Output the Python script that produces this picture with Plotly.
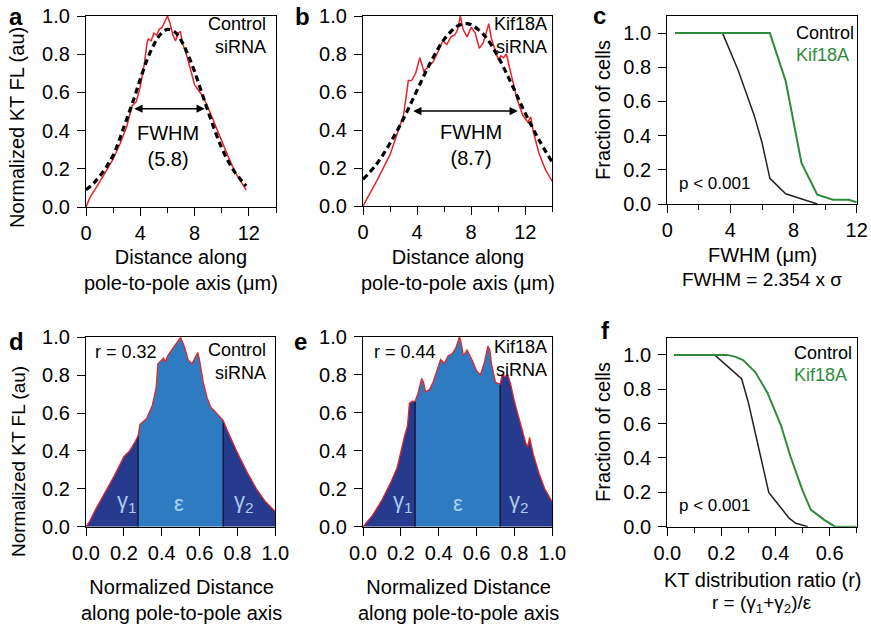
import plotly.graph_objects as go

# ---------------- data ----------------
# panel a: control siRNA profile (distance um, normalized FL)
a_x = [0, 0.3, 1.0, 2.0, 2.5, 3.0, 3.4, 3.7, 4.0, 4.3, 4.5, 4.6, 4.8, 5.0, 5.2, 5.4, 5.6, 5.8, 6.0,
       6.2, 6.4, 6.6, 6.8, 6.95, 7.1, 7.4, 7.7, 8.0, 8.3, 8.6, 9.0, 9.5, 10.0, 10.5, 11.0, 11.5, 11.8]
a_y = [0, 0.05, 0.13, 0.25, 0.33, 0.42, 0.53, 0.55, 0.63, 0.75, 0.86, 0.88, 0.87, 0.91, 0.90, 0.93, 0.94, 0.97, 1.0,
       0.96, 0.90, 0.87, 0.91, 0.92, 0.86, 0.80, 0.72, 0.64, 0.61, 0.58, 0.52, 0.43, 0.34, 0.26, 0.18, 0.12, 0.09]
a_fit_x = [0, 0.5, 1, 1.5, 2, 2.5, 3, 3.5, 4, 4.5, 5, 5.5, 6, 6.5, 7, 7.5, 8, 8.5, 9, 9.5, 10, 10.5, 11, 11.5, 11.8]
a_fit_y = [0.09, 0.12, 0.16, 0.21, 0.27, 0.36, 0.46, 0.56, 0.67, 0.77, 0.85, 0.905, 0.93, 0.919, 0.874, 0.80,
           0.709, 0.605, 0.499, 0.399, 0.31, 0.237, 0.179, 0.135, 0.11]

# panel b: Kif18A siRNA profile
b_x = [0, 1.0, 2.0, 2.5, 3.0, 3.2, 3.35, 3.6, 3.9, 4.2, 4.5, 4.8, 5.2, 5.6, 5.9, 6.2, 6.5, 6.8, 7.0, 7.2, 7.4,
       7.7, 8.0, 8.3, 8.6, 8.9, 9.2, 9.3, 9.5, 9.8, 10.0, 10.2, 10.4, 10.6, 10.8, 11.1, 11.4, 11.8, 12.2, 12.4,
       12.6, 13.0, 13.5, 14.0]
b_y = [0, 0.13, 0.27, 0.37, 0.48, 0.58, 0.66, 0.66, 0.70, 0.78, 0.71, 0.73, 0.76, 0.82, 0.87, 0.85, 0.89, 0.90,
       0.93, 1.0, 0.93, 0.89, 0.94, 0.91, 0.83, 0.86, 0.93, 0.96, 0.88, 0.82, 0.77, 0.79, 0.78, 0.80, 0.74, 0.64,
       0.56, 0.48, 0.44, 0.47, 0.39, 0.28, 0.19, 0.13]
b_fit_x = [0, 1, 2, 3, 4, 5, 6, 7, 7.6, 8, 9, 10, 11, 12, 13, 14]
b_fit_y = [0.14, 0.22, 0.33, 0.46, 0.61, 0.756, 0.877, 0.948, 0.96, 0.954, 0.896, 0.784, 0.64, 0.488, 0.35, 0.23]

# panel c: cumulative FWHM
c_ctrl_x = [0.5, 3.5, 4.5, 5.5, 6.0, 6.5, 7.5, 8.5, 9.5]
c_ctrl_y = [1.0, 1.0, 0.78, 0.52, 0.36, 0.15, 0.06, 0.03, 0.0]
c_kif_x = [0.5, 6.5, 7.5, 8.5, 9.5, 10.5, 11.5, 12.0]
c_kif_y = [1.0, 1.0, 0.72, 0.24, 0.055, 0.025, 0.025, 0.01]

# panel d: normalized control profile
d_x = [0, 0.02, 0.05, 0.1, 0.15, 0.2, 0.23, 0.26, 0.275, 0.285, 0.32, 0.35, 0.37, 0.38, 0.40, 0.41, 0.42, 0.43,
       0.45, 0.47, 0.48, 0.5, 0.52, 0.54, 0.56, 0.58, 0.59, 0.6, 0.62, 0.64, 0.66, 0.68, 0.70, 0.725, 0.75, 0.8,
       0.85, 0.9, 0.95, 1.0]
d_y = [0, 0.03, 0.09, 0.18, 0.27, 0.37, 0.40, 0.45, 0.48, 0.54, 0.57, 0.64, 0.73, 0.86, 0.88, 0.89, 0.87, 0.90,
       0.93, 0.96, 0.97, 1.0, 0.95, 0.88, 0.86, 0.90, 0.92, 0.88, 0.76, 0.68, 0.63, 0.61, 0.59, 0.56, 0.50, 0.39,
       0.29, 0.20, 0.13, 0.08]

# panel e: normalized Kif18A profile
e_x = [0, 0.05, 0.1, 0.15, 0.18, 0.2, 0.22, 0.235, 0.245, 0.26, 0.275, 0.29, 0.31, 0.32, 0.33, 0.35, 0.37, 0.39,
       0.41, 0.43, 0.45, 0.47, 0.49, 0.50, 0.51, 0.52, 0.53, 0.55, 0.56, 0.58, 0.60, 0.62, 0.64, 0.66, 0.67, 0.68,
       0.70, 0.725, 0.735, 0.75, 0.765, 0.78, 0.80, 0.83, 0.86, 0.87, 0.88, 0.9, 0.93, 0.96, 1.0]
e_y = [0, 0.06, 0.14, 0.24, 0.31, 0.40, 0.48, 0.53, 0.65, 0.66, 0.66, 0.70, 0.78, 0.76, 0.71, 0.72, 0.76, 0.82,
       0.88, 0.86, 0.90, 0.91, 0.94, 0.97, 1.0, 0.96, 0.90, 0.93, 0.91, 0.87, 0.82, 0.80, 0.86, 0.95, 0.93, 0.85,
       0.76, 0.75, 0.80, 0.79, 0.80, 0.75, 0.66, 0.55, 0.44, 0.42, 0.47, 0.38, 0.28, 0.20, 0.13]

# panel f: cumulative distribution ratio
f_ctrl_x = [0.025, 0.175, 0.225, 0.275, 0.30, 0.325, 0.35, 0.375, 0.40, 0.425, 0.45, 0.475, 0.52]
f_ctrl_y = [1.0, 1.0, 0.93, 0.86, 0.72, 0.55, 0.38, 0.20, 0.15, 0.10, 0.05, 0.02, 0.0]
f_kif_x = [0.025, 0.22, 0.25, 0.28, 0.325, 0.37, 0.42, 0.455, 0.50, 0.53, 0.58, 0.62, 0.70]
f_kif_y = [1.0, 1.0, 0.99, 0.97, 0.90, 0.78, 0.59, 0.41, 0.21, 0.10, 0.04, 0.0, 0.0]

region_bounds = [0.275, 0.725]
fwhm_labels = ["(5.8)", "(8.7)"]
r_labels = ["r = 0.32", "r = 0.44"]

# ---------------- style ----------------
W, H = 871, 626
FONT = "Liberation Sans, Arial, Helvetica, sans-serif"
RED = "#E3262B"
GREEN = "#2E8B3E"
NAVY = "#263B8E"
MIDBLUE = "#2F7BC2"
LIGHT = "#A9CBEA"


def X(px):
    return px / W


def Y(py):
    return 1 - py / H


fig = go.Figure()

# panel a
fig.add_trace(go.Scatter(x=a_x, y=a_y, mode="lines", line=dict(color=RED, width=1.5), xaxis="x", yaxis="y"))
fig.add_trace(go.Scatter(x=a_fit_x, y=a_fit_y, mode="lines", line=dict(color="black", width=3.2, dash="6px,4px"),
                         line_shape="spline", xaxis="x", yaxis="y"))
# panel b
fig.add_trace(go.Scatter(x=b_x, y=b_y, mode="lines", line=dict(color=RED, width=1.5), xaxis="x2", yaxis="y2"))
fig.add_trace(go.Scatter(x=b_fit_x, y=b_fit_y, mode="lines", line=dict(color="black", width=3.2, dash="6px,4px"),
                         line_shape="spline", xaxis="x2", yaxis="y2"))
# panel c
fig.add_trace(go.Scatter(x=c_ctrl_x, y=c_ctrl_y, mode="lines", line=dict(color="#222222", width=1.5),
                         xaxis="x3", yaxis="y3"))
fig.add_trace(go.Scatter(x=c_kif_x, y=c_kif_y, mode="lines", line=dict(color=GREEN, width=2),
                         xaxis="x3", yaxis="y3"))


def add_regions(xs, ys, xa, ya):
    lo, hi = region_bounds
    parts = [
        ([x for x in xs if x <= lo], NAVY),
        ([x for x in xs if lo <= x <= hi], MIDBLUE),
        ([x for x in xs if x >= hi], NAVY),
    ]
    for px_, col in parts:
        py_ = [ys[xs.index(v)] for v in px_]
        fig.add_trace(go.Scatter(x=px_, y=py_, mode="lines", line=dict(width=0), fill="tozeroy",
                                 fillcolor=col, xaxis=xa, yaxis=ya))
    for b in region_bounds:
        yb = ys[xs.index(b)]
        fig.add_trace(go.Scatter(x=[b, b], y=[0, yb], mode="lines", line=dict(color="#15183a", width=1.5),
                                 xaxis=xa, yaxis=ya))
    fig.add_trace(go.Scatter(x=xs, y=ys, mode="lines", line=dict(color=RED, width=1.3), xaxis=xa, yaxis=ya))


add_regions(d_x, d_y, "x4", "y4")
add_regions(e_x, e_y, "x5", "y5")

# panel f
fig.add_trace(go.Scatter(x=f_ctrl_x, y=f_ctrl_y, mode="lines", line=dict(color="#222222", width=1.5),
                         xaxis="x6", yaxis="y6"))
fig.add_trace(go.Scatter(x=f_kif_x, y=f_kif_y, mode="lines", line=dict(color=GREEN, width=2),
                         xaxis="x6", yaxis="y6"))

# ---------------- axes ----------------
common = dict(showgrid=False, zeroline=False, showline=True, mirror=True, linecolor="black", linewidth=1.3,
              ticks="outside", ticklen=8, tickwidth=1.3, tickcolor="black", automargin=False,
              tickfont=dict(family=FONT, size=20, color="black"))

panels = {
    # name: (xdomain px, ydomain px (top,bottom), xrange, dtick, minor, xfmt, yrange)
    "1": ((86, 276), (16, 207), [0, 14], 4, 2, None, [0, 1.0]),
    "2": ((363, 552.3), (16, 206), [0, 14], 4, 2, None, [0, 1.0]),
    "3": ((667.3, 856.7), (16, 204), [0, 12], 4, 2, None, [0, 1.1]),
    "4": ((86, 275.3), (337.3, 526.7), [0, 1], 0.2, None, ".1f", [0, 1.0]),
    "5": ((363, 552.3), (336.7, 526.7), [0, 1], 0.2, None, ".1f", [0, 1.0]),
    "6": ((667.3, 856.7), (337.7, 526.7), [0, 0.7], 0.2, 0.1, ".1f", [0, 1.1]),
}
lay = {}
for k, (xd, yd, xr, dt, mn, fmt, yr) in panels.items():
    xn = "xaxis" if k == "1" else "xaxis" + k
    yn = "yaxis" if k == "1" else "yaxis" + k
    xa = dict(common, domain=[X(xd[0]), X(xd[1])], range=xr, tick0=0, dtick=dt,
              anchor="y" if k == "1" else "y" + k)
    if fmt:
        xa["tickformat"] = fmt
    if mn:
        xa["minor"] = dict(dtick=mn, tick0=0, ticks="outside", ticklen=5, tickwidth=1.3, tickcolor="black")
    ya = dict(common, domain=[Y(yd[1]), Y(yd[0])], range=yr, tick0=0, dtick=0.2, tickformat=".1f",
              anchor="x" if k == "1" else "x" + k, ticklabelstandoff=3)
    lay[xn] = xa
    lay[yn] = ya

fig.update_layout(**lay)

# ---------------- annotations ----------------
ann = []


def T(text, x, y, size=20, color="black", xanchor="center", yanchor="middle", align="center", bold=False,
      xref="paper", yref="paper", angle=0):
    if bold:
        text = "<b>" + text + "</b>"
    ann.append(dict(text=text, x=x, y=y, xref=xref, yref=yref, showarrow=False, xanchor=xanchor,
                    yanchor=yanchor, align=align, textangle=angle,
                    font=dict(family=FONT, size=size, color=color)))


# panel letters
for L, px, py in [("a", 16, 17), ("b", 302, 17), ("c", 599, 15), ("d", 16, 341), ("e", 300, 341), ("f", 605, 330)]:
    T(L, X(px), Y(py), size=24, bold=True)

# y titles
T("Normalized KT FL (au)", X(17), Y(128), size=20, angle=-90)
T("Fraction of cells", X(603), Y(110), size=20, angle=-90)
T("Normalized KT FL (au)", X(18), Y(462), size=19, angle=-90)
T("Fraction of cells", X(603), Y(432), size=20, angle=-90)

# x titles
T("Distance along<br>pole-to-pole axis (\u03bcm)", X(181), Y(270), size=20)
T("Distance along<br>pole-to-pole axis (\u03bcm)", X(458), Y(270), size=20)
T("FWHM (\u03bcm)", X(762), Y(255), size=20)
T("FWHM = 2.354 x \u03c3", X(762), Y(279), size=19)
T("Normalized Distance<br>along pole-to-pole axis", X(181), Y(600), size=20)
T("Normalized Distance<br>along pole-to-pole axis", X(458), Y(600), size=20)
T("KT distribution ratio (r)", X(762), Y(580), size=20)
T("r = (\u03b3<sub>1</sub>+\u03b3<sub>2</sub>)/\u03b5", X(762), Y(604), size=19)

# condition labels
T("Control<br>siRNA", X(268), Y(36), size=18, xanchor="right", align="right")
T("Kif18A<br>siRNA", X(549), Y(36), size=18, xanchor="right", align="right")
T("Control<br>siRNA", X(268), Y(361), size=18, xanchor="right", align="right")
T("Kif18A<br>siRNA", X(549), Y(358), size=18, xanchor="right", align="right")

# legends in c / f
T("Control", X(794), Y(33), size=18, xanchor="left")
T("Kif18A", X(794), Y(55), size=18, xanchor="left", color=GREEN)
T("p < 0.001", X(677), Y(183), size=17, xanchor="left")
T("Control", X(792), Y(353), size=18, xanchor="left")
T("Kif18A", X(792), Y(375), size=18, xanchor="left", color=GREEN)
T("p < 0.001", X(677), Y(505), size=17, xanchor="left")

# r values
T(r_labels[0], X(93), Y(352), size=18, xanchor="left")
T(r_labels[1], X(372), Y(352), size=18, xanchor="left")

# FWHM text
T("FWHM<br>" + fwhm_labels[0], 6.05, 0.32, size=20, xref="x", yref="y")
T("FWHM<br>" + fwhm_labels[1], 8.0, 0.32, size=20, xref="x2", yref="y2")

# FWHM arrows
for xr_, yr_, xs, xe, yv in [("x", "y", 3.45, 8.75, 0.515), ("x2", "y2", 3.6, 11.45, 0.50)]:
    ann.append(dict(x=xe, y=yv, ax=xs, ay=yv, xref=xr_, yref=yr_, axref=xr_, ayref=yr_, text="",
                    showarrow=True, arrowhead=2, arrowside="end+start", arrowsize=1.1, arrowwidth=1.5,
                    arrowcolor="black"))

# region labels
for xr_, yr_, xs in [("x4", "y4", [0.215, 0.49, 0.835]), ("x5", "y5", [0.21, 0.50, 0.825])]:
    T("\u03b3<sub>1</sub>", xs[0], 0.13, size=22, color=LIGHT, xref=xr_, yref=yr_)
    T("\u03b5", xs[1], 0.12, size=22, color="#A6D3F5", xref=xr_, yref=yr_)
    T("\u03b3<sub>2</sub>", xs[2], 0.13, size=22, color=LIGHT, xref=xr_, yref=yr_)

fig.update_layout(width=W, height=H, autosize=False,
                  margin=dict(l=0, r=0, t=0, b=0, pad=0, autoexpand=False),
                  paper_bgcolor="white", plot_bgcolor="white", showlegend=False, annotations=ann,
                  font=dict(family=FONT, color="black"))

fig.write_html("out.html", config={"displayModeBar": False},
               post_script="document.body.style.margin='0';document.body.style.padding='0';"
                           "document.body.style.overflow='hidden';")
